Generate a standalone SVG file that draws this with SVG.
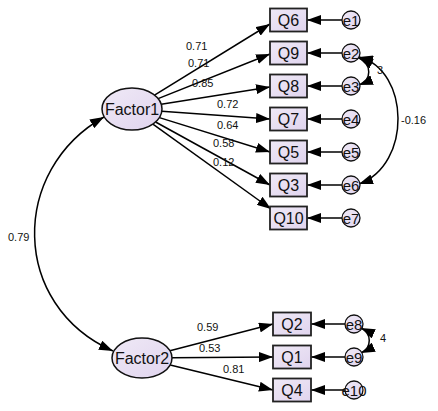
<svg xmlns="http://www.w3.org/2000/svg" width="438" height="411" viewBox="0 0 438 411">
<defs>
<linearGradient id="g" x1="0" y1="0" x2="1" y2="1">
<stop offset="0" stop-color="#efe9f6"/>
<stop offset="1" stop-color="#e0d4ee"/>
</linearGradient>
<marker id="ah" viewBox="0 0 14 10" refX="14" refY="5" markerWidth="14" markerHeight="10" markerUnits="userSpaceOnUse" orient="auto-start-reverse">
<path d="M0,0 L14,5 L0,10 z" fill="#000"/>
</marker>
</defs>
<style>
.box{fill:url(#g);stroke:#222;stroke-width:1.8}
.lat{fill:url(#g);stroke:#111;stroke-width:1.5}
.err{fill:url(#g);stroke:#111;stroke-width:1.3}
.lbl{font-family:"Liberation Sans",Arial,sans-serif;font-size:16px;fill:#111;text-anchor:middle}
.el{font-family:"Liberation Sans",Arial,sans-serif;font-size:15px;fill:#111;text-anchor:middle}
.num{font-family:"Liberation Sans",Arial,sans-serif;font-size:11px;fill:#111}
.c path,.c line{stroke:#000;stroke-width:1.5;fill:none;marker-end:url(#ah)}
.c .dbl{marker-start:url(#ah)}
</style>
<rect width="438" height="411" fill="#fff"/>
<g id="connectors" class="c">
<line x1="154.5" y1="95.1" x2="270" y2="24"/>
<line x1="158.1" y1="98.6" x2="270" y2="54"/>
<line x1="161.2" y1="104.3" x2="270" y2="87"/>
<line x1="161.8" y1="111.2" x2="270" y2="119"/>
<line x1="159.4" y1="117.6" x2="270" y2="152"/>
<line x1="155.6" y1="122" x2="270" y2="185"/>
<line x1="152.9" y1="124.1" x2="271" y2="209"/>
<line x1="169.9" y1="350.8" x2="273" y2="324"/>
<line x1="172" y1="357.8" x2="273" y2="357"/>
<line x1="170.2" y1="364.9" x2="273" y2="390"/>
<line x1="342" y1="20" x2="307" y2="20"/>
<line x1="342" y1="53" x2="307" y2="53"/>
<line x1="342" y1="86" x2="307" y2="86"/>
<line x1="342" y1="119" x2="307" y2="119"/>
<line x1="342" y1="152" x2="307" y2="152"/>
<line x1="342" y1="185" x2="307" y2="185"/>
<line x1="342" y1="218" x2="307" y2="218"/>
<line x1="345" y1="324" x2="311" y2="324"/>
<line x1="345" y1="357" x2="311" y2="357"/>
<line x1="345" y1="390" x2="311" y2="390"/>
<path class="dbl" d="M104,117 C10,170 10,305 113,351"/>
<path class="dbl" d="M359,58 C372,64 372,80 359,85"/>
<path class="dbl" d="M359,57 C410,70 412,165 359,184"/>
<path class="dbl" d="M361,328 C372,333 372,348 361,353"/>
</g>
<g class="num">
<text x="186" y="50">0.71</text>
<text x="188" y="67">0.71</text>
<text x="192" y="87">0.85</text>
<text x="217" y="108">0.72</text>
<text x="217" y="129">0.64</text>
<text x="213" y="147">0.58</text>
<text x="213" y="166">0.12</text>
<text x="8" y="241">0.79</text>
<text x="197" y="331">0.59</text>
<text x="199" y="352">0.53</text>
<text x="223" y="373">0.81</text>
<text x="401" y="124">-0.16</text>
<text x="377" y="74">3</text>
<text x="380" y="342">4</text>
</g>
<g id="Factor1"><ellipse class="lat" cx="132" cy="109" rx="30" ry="21"/><text class="lbl" x="132" y="115">Factor1</text></g>
<g id="Factor2"><ellipse class="lat" cx="142" cy="358" rx="30" ry="20"/><text class="lbl" x="142" y="364">Factor2</text></g>
<g id="Q6"><rect class="box" x="270" y="8.5" width="37" height="23"/><text class="lbl" x="288.5" y="26">Q6</text></g>
<g id="Q9"><rect class="box" x="270" y="41.5" width="37" height="23"/><text class="lbl" x="288.5" y="59">Q9</text></g>
<g id="Q8"><rect class="box" x="270" y="74.5" width="37" height="23"/><text class="lbl" x="288.5" y="92">Q8</text></g>
<g id="Q7"><rect class="box" x="270" y="107.5" width="37" height="23"/><text class="lbl" x="288.5" y="125">Q7</text></g>
<g id="Q5"><rect class="box" x="270" y="140.5" width="37" height="23"/><text class="lbl" x="288.5" y="158">Q5</text></g>
<g id="Q3"><rect class="box" x="270" y="173.5" width="37" height="23"/><text class="lbl" x="288.5" y="191">Q3</text></g>
<g id="Q10"><rect class="box" x="270" y="206.5" width="37" height="23"/><text class="lbl" x="288.5" y="224">Q10</text></g>
<g id="Q2"><rect class="box" x="273" y="312.5" width="38" height="23"/><text class="lbl" x="292" y="330">Q2</text></g>
<g id="Q1"><rect class="box" x="273" y="345.5" width="38" height="23"/><text class="lbl" x="292" y="363">Q1</text></g>
<g id="Q4"><rect class="box" x="273" y="378.5" width="38" height="23"/><text class="lbl" x="292" y="396">Q4</text></g>
<g id="e1"><circle class="err" cx="351" cy="20" r="9"/><text class="el" x="351" y="25.5">e1</text></g>
<g id="e2"><circle class="err" cx="351" cy="53" r="9"/><text class="el" x="351" y="58.5">e2</text></g>
<g id="e3"><circle class="err" cx="351" cy="86" r="9"/><text class="el" x="351" y="91.5">e3</text></g>
<g id="e4"><circle class="err" cx="351" cy="119" r="9"/><text class="el" x="351" y="124.5">e4</text></g>
<g id="e5"><circle class="err" cx="351" cy="152" r="9"/><text class="el" x="351" y="157.5">e5</text></g>
<g id="e6"><circle class="err" cx="351" cy="185" r="9"/><text class="el" x="351" y="190.5">e6</text></g>
<g id="e7"><circle class="err" cx="351" cy="218" r="9"/><text class="el" x="351" y="223.5">e7</text></g>
<g id="e8"><circle class="err" cx="354" cy="324" r="9"/><text class="el" x="354" y="329.5">e8</text></g>
<g id="e9"><circle class="err" cx="354" cy="357" r="9"/><text class="el" x="354" y="362.5">e9</text></g>
<g id="e10"><circle class="err" cx="354" cy="390" r="9"/><text class="el" x="354" y="395.5">e10</text></g>
</svg>
